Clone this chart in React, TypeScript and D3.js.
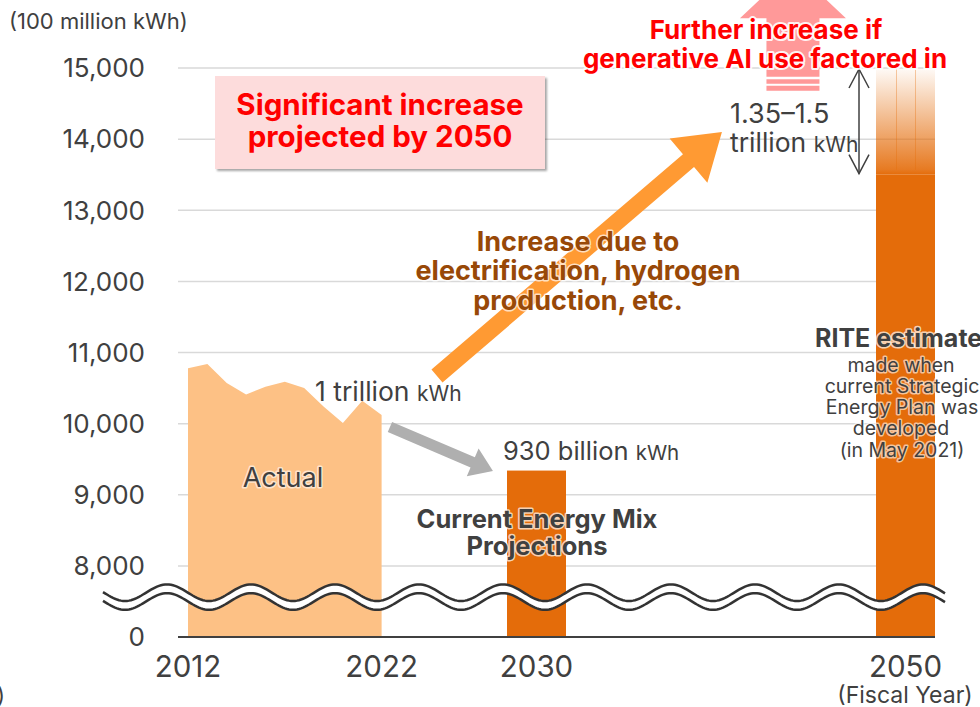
import React from "react";
import * as d3 from "d3";

const W = 980;
const H = 707;
const FONT = "Inter, 'Open Sans', sans-serif";

// ---- data ----
const actualYears = [2012, 2013, 2014, 2015, 2016, 2017, 2018, 2019, 2020, 2021, 2022];
const actualValues = [10780, 10840, 10570, 10410, 10520, 10590, 10500, 10240, 10010, 10320, 10120];
const mixYear = 2030;
const mixValue = 9340;
const riteYear = 2050;
const riteLow = 13500;
const riteHigh = 15000;
const yTickValues = [7000, 8000, 9000, 10000, 11000, 12000, 13000, 14000, 15000];
const yTickLabels = ["0", "8,000", "9,000", "10,000", "11,000", "12,000", "13,000", "14,000", "15,000"];
const xTickYears = [2012, 2022, 2030, 2050];
const xTickLabels = ["2012", "2022", "2030", "2050"];
// annotation arrows in data space: [year, value]
const orangeArrow = { from: [2024.86, 10670], to: [2040.05, 14100] };
const grayArrow = { from: [2022.43, 9953], to: [2027.75, 9334] };
const rangeArrowYear = 2047.48;
const aiArrow = { year: 2043.9, base: 14680, headBase: 15700, tip: 16400 };

const x = d3.scaleLinear().domain([2012, 2030, 2050]).range([188, 536.5, 905.5]);
const y = d3.scaleLinear().domain([7000, 15000]).range([637, 68]);

function arrowPath(x1: number, y1: number, x2: number, y2: number, shaftW: number, headW: number, headL: number) {
  const dx = x2 - x1, dy = y2 - y1;
  const len = Math.hypot(dx, dy);
  const ux = dx / len, uy = dy / len;
  const nx = -uy, ny = ux;
  const bx = x2 - ux * headL, by = y2 - uy * headL;
  const p = d3.path();
  p.moveTo(x1 + nx * shaftW / 2, y1 + ny * shaftW / 2);
  p.lineTo(bx + nx * shaftW / 2, by + ny * shaftW / 2);
  p.lineTo(bx + nx * headW / 2, by + ny * headW / 2);
  p.lineTo(x2, y2);
  p.lineTo(bx - nx * headW / 2, by - ny * headW / 2);
  p.lineTo(bx - nx * shaftW / 2, by - ny * shaftW / 2);
  p.lineTo(x1 - nx * shaftW / 2, y1 - ny * shaftW / 2);
  p.closePath();
  return p.toString();
}

export default function App() {
  const area = d3
    .area<number>()
    .x((_, i) => x(actualYears[i]))
    .y0(y(7000))
    .y1((d) => y(d))(actualValues) as string;

  const barW = 59;
  const gridX0 = 178;
  const gridX1 = 935;

  // wavy break
  const wave = (cy: number) => {
    const pts: [number, number][] = [];
    for (let px = 103; px <= 945; px += 2) {
      pts.push([px, cy - 8.3 * Math.cos((2 * Math.PI * (px - 167)) / 84)]);
    }
    return d3.line().curve(d3.curveLinear)(pts) as string;
  };

  const halo = (w: number, op = 0.8) => ({
    paintOrder: "stroke" as const,
    stroke: "#fff",
    strokeWidth: w,
    strokeOpacity: op,
    strokeLinejoin: "round" as const,
  });

  const ax = x(rangeArrowYear);
  const aiX = x(aiArrow.year);

  return (
    <svg width={W} height={H} style={{ position: "absolute", left: 0, top: 0, background: "#fff" }} fontFamily={FONT}>
      <defs>
        <linearGradient id="riteGrad" x1="0" y1="1" x2="0" y2="0">
          <stop offset="0" stopColor="#E46C0A" stopOpacity={1} />
          <stop offset="0.05" stopColor="#E46C0A" stopOpacity={0.9} />
          <stop offset="1" stopColor="#E46C0A" stopOpacity={0.03} />
        </linearGradient>
        <filter id="shadow" x="-5%" y="-5%" width="115%" height="120%">
          <feDropShadow dx="2" dy="2" stdDeviation="1" floodColor="#000" floodOpacity="0.35" />
        </filter>
      </defs>

      {/* gridlines */}
      {yTickValues.slice(1).map((v) => (
        <line key={v} x1={gridX0} x2={gridX1} y1={y(v)} y2={y(v)} stroke="#D9D9D9" strokeWidth={1.5} />
      ))}

      {/* y tick labels */}
      {yTickValues.map((v, i) => (
        <text key={v} x={145} y={y(v)} dy="0.36em" textAnchor="end" fontSize={26} fill="#404040">
          {yTickLabels[i]}
        </text>
      ))}
      <text x={9} y={29} fontSize={22} fill="#404040">(100 million kWh)</text>

      {/* actual area */}
      <path d={area} fill="#FDC185" />

      {/* 2030 bar */}
      <rect x={x(mixYear) - barW / 2} y={y(mixValue)} width={barW} height={y(7000) - y(mixValue)} fill="#E46C0A" />

      {/* 2050 bar */}
      <rect x={x(riteYear) - barW / 2} y={y(riteLow)} width={barW} height={y(7000) - y(riteLow)} fill="#E46C0A" />
      <rect x={x(riteYear) - barW / 2} y={y(riteHigh)} width={barW} height={y(riteLow) - y(riteHigh)} fill="url(#riteGrad)" />
      {[-9, 10].map((o) => (
        <line key={o} x1={x(riteYear) + o} x2={x(riteYear) + o} y1={y(riteHigh)} y2={y(riteLow) - 5} stroke="#E46C0A" strokeOpacity={0.35} strokeWidth={1} />
      ))}

      {/* baseline */}
      <line x1={gridX0} x2={gridX1} y1={y(7000)} y2={y(7000)} stroke="#404040" strokeWidth={2} />

      {/* wavy break */}
      <path d={wave(597.1)} fill="none" stroke="#fff" strokeWidth={8} />
      <path d={wave(592.7)} fill="none" stroke="#333" strokeWidth={2.5} />
      <path d={wave(601.5)} fill="none" stroke="#333" strokeWidth={2.5} />

      {/* x labels */}
      {xTickYears.map((yr, i) => (
        <text key={yr} x={x(yr)} y={677} textAnchor="middle" fontSize={29.5} fill="#404040">
          {xTickLabels[i]}
        </text>
      ))}
      <text x={905} y={703} textAnchor="middle" fontSize={23} fill="#404040">(Fiscal Year)</text>
      <text x={-3} y={703} fontSize={22} fill="#404040">)</text>

      {/* arrows */}
      <path
        d={arrowPath(x(grayArrow.from[0]), y(grayArrow.from[1]), x(grayArrow.to[0]), y(grayArrow.to[1]), 11, 30, 22)}
        fill="#AFAFAF"
      />
      <path
        d={arrowPath(x(orangeArrow.from[0]), y(orangeArrow.from[1]), x(orangeArrow.to[0]), y(orangeArrow.to[1]), 17, 58, 44)}
        fill="#FF9A33"
      />

      {/* AI arrow */}
      <path
        d={`M${aiX - 53},${y(aiArrow.headBase)} L${aiX},${y(aiArrow.tip)} L${aiX + 53},${y(aiArrow.headBase)} L${aiX + 26.5},${y(aiArrow.headBase)} L${aiX + 26.5},${y(aiArrow.base) - 14} L${aiX - 26.5},${y(aiArrow.base) - 14} L${aiX - 26.5},${y(aiArrow.headBase)} Z`}
        fill="#FF9999"
      />
      <rect x={aiX - 26.5} y={y(aiArrow.base) - 11.5} width={53} height={4.5} fill="#FF9999" />
      <rect x={aiX - 26.5} y={y(aiArrow.base) - 5} width={53} height={5} fill="#FF9999" />

      {/* range double arrow */}
      <g stroke="#404040" strokeWidth={1.5} fill="none">
        <line x1={ax} x2={ax} y1={y(riteHigh) + 1} y2={y(riteLow) - 1} />
        <polyline points={`${ax - 10},${y(riteHigh) + 20} ${ax},${y(riteHigh) + 1} ${ax + 10},${y(riteHigh) + 20}`} />
        <polyline points={`${ax - 10},${y(riteLow) - 20} ${ax},${y(riteLow) - 1} ${ax + 10},${y(riteLow) - 20}`} />
      </g>

      {/* pink box */}
      <rect x={215} y={76} width={330} height={93} fill="#FDDCDC" filter="url(#shadow)" />
      <text x={380} y={115} textAnchor="middle" fontSize={29.5} fontWeight={700} fill="#FF0000">Significant increase</text>
      <text x={380} y={147} textAnchor="middle" fontSize={29.5} fontWeight={700} fill="#FF0000">projected by 2050</text>

      {/* AI text */}
      <g fontSize={26} fontWeight={700} fill="#FF0000" textAnchor="middle" style={halo(4, 0.9)}>
        <text x={766} y={39}>Further increase if</text>
        <text x={765} y={68}>generative AI use factored in</text>
      </g>

      {/* 1.35-1.5 trillion */}
      <text x={730} y={123} fontSize={27} fill="#404040">1.35–1.5</text>
      <text x={730} y={152} fontSize={26.5} fill="#404040">
        trillion <tspan fontSize={21}>kWh</tspan>
      </text>

      {/* increase text */}
      <g fontSize={27} fontWeight={700} fill="#984807" textAnchor="middle" style={halo(3, 0.7)}>
        <text x={578} y={251}>Increase due to</text>
        <text x={578} y={280}>electrification, hydrogen</text>
        <text x={578} y={310}>production, etc.</text>
      </g>

      {/* 1 trillion */}
      <text x={315} y={401} fontSize={26.5} fill="#404040">
        1 trillion <tspan fontSize={21}>kWh</tspan>
      </text>

      {/* 930 billion */}
      <text x={503} y={460} fontSize={25.5} fill="#404040">
        930 billion <tspan fontSize={20.5}>kWh</tspan>
      </text>

      {/* Actual */}
      <text x={283} y={487} textAnchor="middle" fontSize={27} fill="#404040" style={halo(3, 0.6)}>Actual</text>

      {/* Current energy mix */}
      <g fontSize={25.5} fontWeight={700} fill="#404040" textAnchor="middle" style={halo(3, 0.7)}>
        <text x={537} y={528}>Current Energy Mix</text>
        <text x={537} y={555}>Projections</text>
      </g>

      {/* RITE */}
      <text x={815} y={347} fontSize={25} fontWeight={700} fill="#404040" style={halo(3, 0.7)}>RITE estimate</text>
      <g fontSize={19.5} fill="#404040" textAnchor="middle" style={halo(3, 0.6)}>
        <text x={901} y={372}>made when</text>
        <text x={902} y={393}>current Strategic</text>
        <text x={902} y={414}>Energy Plan was</text>
        <text x={901} y={435}>developed</text>
        <text x={902} y={457}>(in May 2021)</text>
      </g>
    </svg>
  );
}
